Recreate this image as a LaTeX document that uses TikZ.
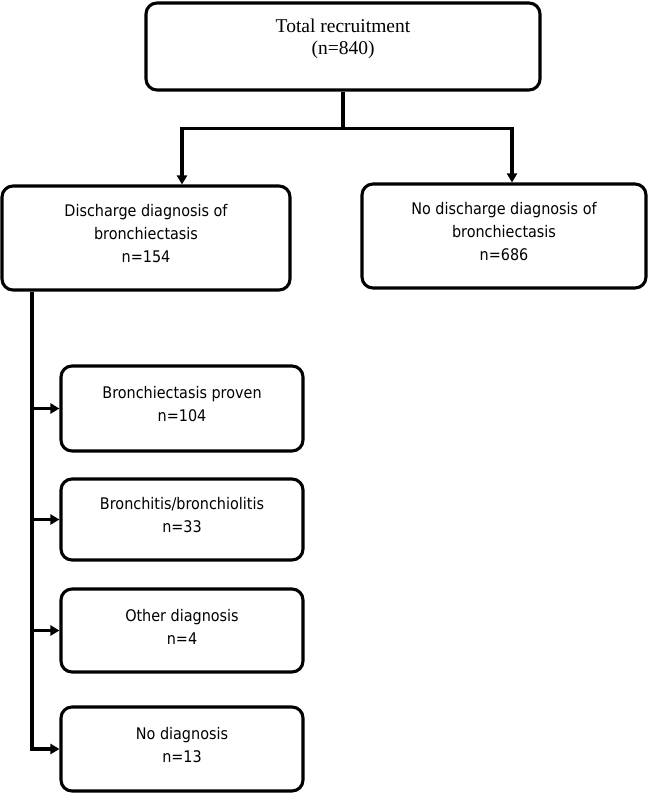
\documentclass[tikz,border=0pt]{standalone}
\usepackage{fontspec}
\usepackage{tikz}
\usetikzlibrary{arrows.meta, positioning}
\newfontfamily\boxfont{DejaVu Sans Condensed}
\newfontfamily\titlefont{Liberation Serif}

\tikzset{
  box/.style={draw, line width=3.1pt, rounded corners=11pt, inner sep=0pt},
  seriftext/.style={font=\titlefont\fontsize{19.5}{22}\selectfont, align=center, yshift=8pt},
  sanstext/.style={font=\boxfont\fontsize{16}{23}\selectfont, align=center, yshift=4pt},
  serifbox/.style={box, label={[seriftext]center:{#1}}},
  sansbox/.style={box, label={[sanstext]center:{#1}}},
  line/.style={line width=3.1pt},
  flow/.style={line, -{Triangle[length=9pt,width=10pt]}}
}

\begin{document}
\begin{tikzpicture}[x=1pt, y=-1pt]
    \useasboundingbox (0,0) rectangle (648,794);

    % Total recruitment
    \node[serifbox={Total recruitment\\(n=840)}, minimum width=394, minimum height=87] (total) at (343,46.5) {};

    % Discharge diagnosis split
    \node[sansbox={Discharge diagnosis of\\bronchiectasis\\n=154}, minimum width=288, minimum height=104] (dis) at (146,238) {};
    \node[sansbox={No discharge diagnosis of\\bronchiectasis\\n=686}, minimum width=284, minimum height=104] (nodis) at (504,236) {};

    % Final diagnoses
    \node[sansbox={Bronchiectasis proven\\n=104}, minimum width=242, minimum height=85] (proven) at (182,408.5) {};
    \node[sansbox={Bronchitis/bronchiolitis\\n=33}, minimum width=242, minimum height=81] (bronchitis) at (182,519.5) {};
    \node[sansbox={Other diagnosis\\n=4}, minimum width=242, minimum height=83] (other) at (182,630.5) {};
    \node[sansbox={No diagnosis\\n=13}, minimum width=242, minimum height=84] (nodiag) at (182,749) {};

    % Connectors
    \coordinate (split) at ([yshift=-37pt]total.south);
    \draw[line] (total.south) -- (split);
    \draw[flow] (split) -| ([xshift=36pt]dis.north);
    \draw[flow] (split) -| ([xshift=8pt]nodis.north);

    \coordinate (trunk) at ([xshift=-114pt]dis.south);
    \draw[flow] (trunk) |- (nodiag.west);
    \foreach \n in {proven, bronchitis, other}
        \draw[flow] (trunk |- \n.west) -- (\n.west);
\end{tikzpicture}
\end{document}
